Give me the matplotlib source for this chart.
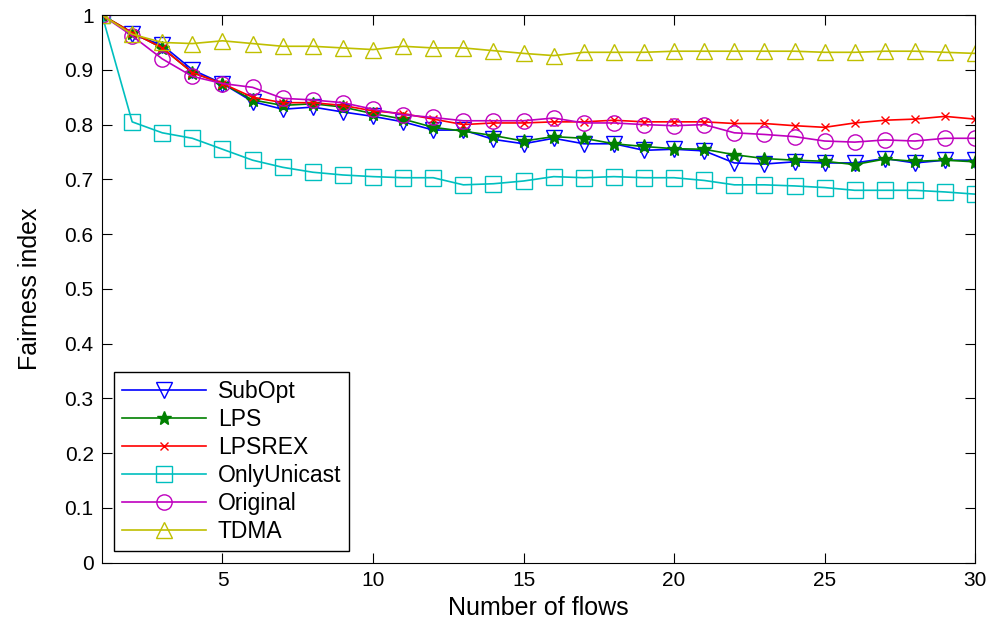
import matplotlib
matplotlib.use("Agg")
import matplotlib.pyplot as plt
import numpy as np

plt.rcParams['font.family'] = ['Liberation Sans', 'DejaVu Sans']

flows = np.arange(1, 31)

subopt = [1, 0.965, 0.945, 0.9, 0.875, 0.842, 0.828, 0.832, 0.823, 0.815,
          0.805, 0.79, 0.79, 0.773, 0.765, 0.775, 0.765, 0.765, 0.753, 0.755,
          0.752, 0.73, 0.728, 0.732, 0.73, 0.73, 0.738, 0.73, 0.735, 0.735]
lps = [1, 0.968, 0.94, 0.895, 0.875, 0.845, 0.835, 0.838, 0.832, 0.82,
       0.81, 0.795, 0.788, 0.78, 0.77, 0.778, 0.775, 0.765, 0.76, 0.756,
       0.755, 0.745, 0.738, 0.735, 0.733, 0.727, 0.737, 0.733, 0.735, 0.732]
lpsrex = [1, 0.968, 0.94, 0.895, 0.875, 0.85, 0.84, 0.84, 0.835, 0.825,
          0.82, 0.81, 0.8, 0.803, 0.803, 0.805, 0.805, 0.808, 0.805, 0.805,
          0.805, 0.802, 0.802, 0.798, 0.795, 0.803, 0.808, 0.81, 0.815, 0.81]
only_unicast = [1, 0.805, 0.785, 0.775, 0.755, 0.735, 0.722, 0.713, 0.708, 0.705,
                0.703, 0.703, 0.69, 0.692, 0.697, 0.705, 0.703, 0.705, 0.703, 0.703,
                0.698, 0.69, 0.69, 0.688, 0.685, 0.68, 0.68, 0.68, 0.677, 0.673]
original = [1, 0.962, 0.92, 0.888, 0.875, 0.868, 0.848, 0.845, 0.84, 0.828,
            0.818, 0.813, 0.807, 0.807, 0.807, 0.812, 0.803, 0.803, 0.8, 0.798,
            0.8, 0.785, 0.782, 0.778, 0.77, 0.768, 0.772, 0.77, 0.775, 0.775]
tdma = [1, 0.965, 0.95, 0.948, 0.953, 0.948, 0.943, 0.943, 0.94, 0.937,
        0.943, 0.94, 0.94, 0.935, 0.93, 0.926, 0.932, 0.932, 0.932, 0.934,
        0.934, 0.934, 0.934, 0.934, 0.932, 0.932, 0.934, 0.934, 0.932, 0.93]

fig = plt.figure(figsize=(9.91, 6.28), dpi=100)
ax = fig.add_axes([0.103, 0.104, 0.881, 0.872])

ax.plot(flows, subopt, color=(0, 0, 1), marker='v', mfc='none', ms=11, lw=1.2, label='SubOpt')
ax.plot(flows, lps, color=(0, 0.5, 0), marker='*', ms=10, lw=1.2, label='LPS')
ax.plot(flows, lpsrex, color=(1, 0, 0), marker='x', ms=6, lw=1.2, label='LPSREX')
ax.plot(flows, only_unicast, color=(0, 0.75, 0.75), marker='s', mfc='none', ms=11, lw=1.2, label='OnlyUnicast')
ax.plot(flows, original, color=(0.75, 0, 0.75), marker='o', mfc='none', ms=11, lw=1.2, label='Original')
ax.plot(flows, tdma, color=(0.75, 0.75, 0), marker='^', mfc='none', ms=11, lw=1.2, label='TDMA')

ax.set_xlim(1, 30)
ax.set_ylim(0, 1)
ax.set_xticks([5, 10, 15, 20, 25, 30])
ax.set_yticks(np.arange(0, 1.01, 0.1))
ax.set_yticklabels(['0', '0.1', '0.2', '0.3', '0.4', '0.5', '0.6', '0.7', '0.8', '0.9', '1'])
ax.tick_params(direction='in', top=True, right=True, labelsize=15, length=7, pad=6)
ax.set_xlabel('Number of flows', fontsize=18, labelpad=4)
ax.set_ylabel('Fairness index', fontsize=18, labelpad=16)

leg = ax.legend(loc='lower left', fontsize=16.5, fancybox=False, framealpha=1,
                edgecolor='black', handlelength=3.7, handletextpad=0.5,
                labelspacing=0.22, borderaxespad=0.5, borderpad=0.35)
leg.get_frame().set_linewidth(1)

fig.savefig('out.png', dpi=100)
